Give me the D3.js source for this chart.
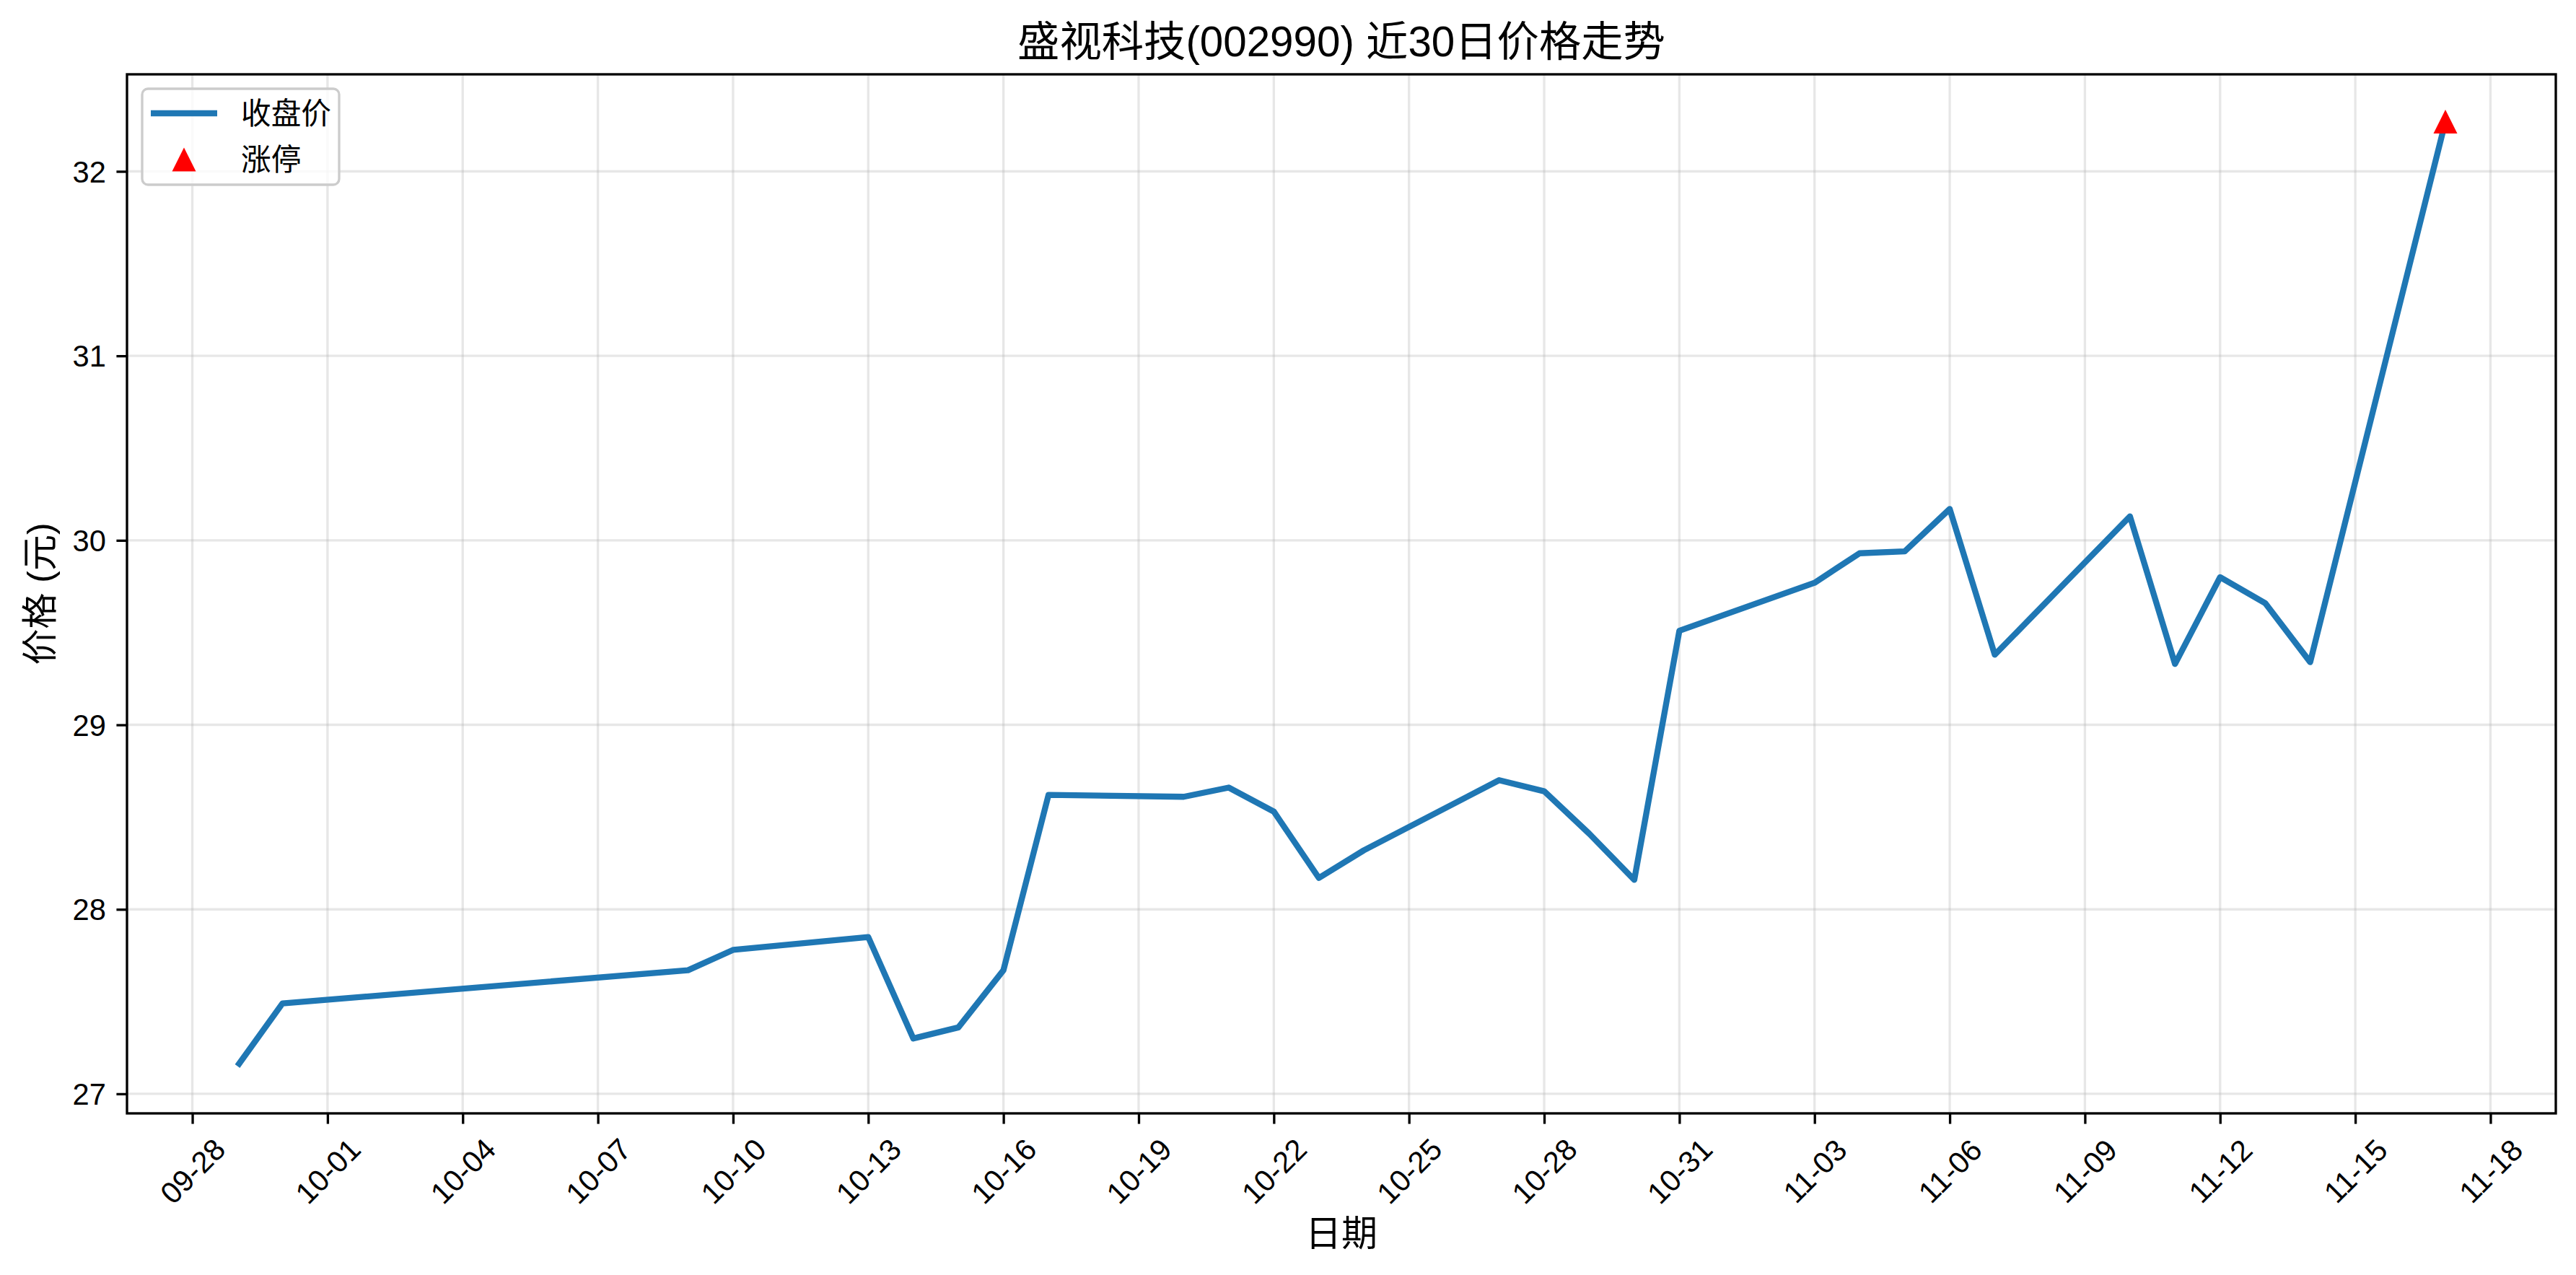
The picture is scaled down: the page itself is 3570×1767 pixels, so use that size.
<!DOCTYPE html>
<html>
<head>
<meta charset="utf-8">
<script src="https://cdn.jsdelivr.net/npm/d3@7"></script>
<style>
  html, body { margin: 0; padding: 0; background: #ffffff; }
  svg { display: block; }
  text { font-family: "Liberation Sans", Arial, "Noto Sans CJK SC", sans-serif; fill: #000; }
</style>
</head>
<body>
<script>
// ---- data ----
const titleText = "盛视科技(002990) 近30日价格走势";
const xLabel = "日期";
const yLabel = "价格 (元)";
const seriesName = "收盘价";
const markerName = "涨停";

const dates = ["2025-09-29","2025-09-30","2025-10-09","2025-10-10","2025-10-13","2025-10-14","2025-10-15","2025-10-16","2025-10-17","2025-10-20","2025-10-21","2025-10-22","2025-10-23","2025-10-24","2025-10-27","2025-10-28","2025-10-29","2025-10-30","2025-10-31","2025-11-03","2025-11-04","2025-11-05","2025-11-06","2025-11-07","2025-11-10","2025-11-11","2025-11-12","2025-11-13","2025-11-14","2025-11-17"];
const closes = [27.15,27.49,27.67,27.78,27.85,27.30,27.36,27.67,28.62,28.61,28.66,28.53,28.17,28.32,28.70,28.64,28.41,28.16,29.51,29.77,29.93,29.94,30.17,29.38,30.13,29.33,29.80,29.66,29.34,32.27];

const limitUpDates = ["2025-11-17"];
const limitUpPrices = [32.27];

const xTickDates = ["2025-09-28","2025-10-01","2025-10-04","2025-10-07","2025-10-10","2025-10-13","2025-10-16","2025-10-19","2025-10-22","2025-10-25","2025-10-28","2025-10-31","2025-11-03","2025-11-06","2025-11-09","2025-11-12","2025-11-15","2025-11-18"];
const yTicks = [27, 28, 29, 30, 31, 32];

// ---- layout ----
const W = 3570, H = 1767;
const plot = { left: 176, right: 3542, top: 103, bottom: 1543 };
const pt = 300 / 72;

const parse = d3.utcParse("%Y-%m-%d");
const fmt = d3.utcFormat("%m-%d");
const data = dates.map((d, i) => ({ date: parse(d), value: closes[i] }));
const limitData = limitUpDates.map((d, i) => ({ date: parse(d), value: limitUpPrices[i] }));

const xExt = d3.extent(data, d => d.date);
const xPad = (xExt[1] - xExt[0]) * 0.05;
const x = d3.scaleUtc()
  .domain([new Date(+xExt[0] - xPad), new Date(+xExt[1] + xPad)])
  .range([plot.left, plot.right]);

const allVals = closes.concat(limitUpPrices);
const yMin = d3.min(allVals), yMax = d3.max(allVals);
const yPad = (yMax - yMin) * 0.05;
const y = d3.scaleLinear()
  .domain([yMin - yPad, yMax + yPad])
  .range([plot.bottom, plot.top]);

const svg = d3.select("body").append("svg")
  .attr("width", W).attr("height", H)
  .attr("viewBox", `0 0 ${W} ${H}`);

svg.append("rect").attr("width", W).attr("height", H).attr("fill", "#fff");

// grid
const gridG = svg.append("g");
gridG.selectAll(".gx").data(xTickDates.map(parse)).enter().append("line")
  .attr("x1", d => x(d)).attr("x2", d => x(d))
  .attr("y1", plot.top).attr("y2", plot.bottom)
  .attr("stroke", "#b0b0b0").attr("stroke-opacity", 0.3).attr("stroke-width", 0.8 * pt);
gridG.selectAll(".gy").data(yTicks).enter().append("line")
  .attr("x1", plot.left).attr("x2", plot.right)
  .attr("y1", d => y(d)).attr("y2", d => y(d))
  .attr("stroke", "#b0b0b0").attr("stroke-opacity", 0.3).attr("stroke-width", 0.8 * pt);

// line
const line = d3.line().x(d => x(d.date)).y(d => y(d.value));
svg.append("path").datum(data)
  .attr("d", line)
  .attr("fill", "none")
  .attr("stroke", "#1f77b4")
  .attr("stroke-width", 2 * pt)
  .attr("stroke-linejoin", "round")
  .attr("stroke-linecap", "butt");

// limit-up markers (matplotlib '^')
const triSize = 16.5;
const triPath = `M0,${-triSize}L${-triSize},${triSize}L${triSize},${triSize}Z`;
svg.selectAll(".lu").data(limitData).enter().append("path")
  .attr("d", triPath)
  .attr("transform", d => `translate(${x(d.date)},${y(d.value)})`)
  .attr("fill", "#ff0000");

// axes
const xAxis = d3.axisBottom(x)
  .tickValues(xTickDates.map(parse))
  .tickFormat(fmt)
  .tickSize(3.5 * pt)
  .tickPadding(3.5 * pt);
const gx = svg.append("g").attr("transform", `translate(0,${plot.bottom})`).call(xAxis);
gx.select(".domain").remove();
gx.selectAll(".tick line").attr("stroke", "#000").attr("stroke-width", 0.8 * pt);
gx.selectAll(".tick text")
  .attr("font-size", 10 * pt)
  .attr("font-family", "Liberation Sans, Arial, sans-serif")
  .attr("text-anchor", "middle")
  .attr("dominant-baseline", "central")
  .attr("dy", null)
  .attr("y", 80)
  .attr("transform", function() { return `rotate(-45,0,80)`; });

const yAxis = d3.axisLeft(y)
  .tickValues(yTicks)
  .tickFormat(d3.format("d"))
  .tickSize(3.5 * pt)
  .tickPadding(3.5 * pt);
const gy = svg.append("g").attr("transform", `translate(${plot.left},0)`).call(yAxis);
gy.select(".domain").remove();
gy.selectAll(".tick line").attr("stroke", "#000").attr("stroke-width", 0.8 * pt);
gy.selectAll(".tick text")
  .attr("font-size", 10 * pt)
  .attr("font-family", "Liberation Sans, Arial, sans-serif")
  .attr("dy", "0.35em");

// frame
svg.append("rect")
  .attr("x", plot.left).attr("y", plot.top)
  .attr("width", plot.right - plot.left).attr("height", plot.bottom - plot.top)
  .attr("fill", "none").attr("stroke", "#000").attr("stroke-width", 0.8 * pt);

// title and labels
svg.append("text")
  .attr("x", (plot.left + plot.right) / 2).attr("y", 57)
  .attr("text-anchor", "middle").attr("dominant-baseline", "central")
  .attr("font-size", 14 * pt)
  .text(titleText);

svg.append("text")
  .attr("x", (plot.left + plot.right) / 2).attr("y", 1710)
  .attr("text-anchor", "middle").attr("dominant-baseline", "central")
  .attr("font-size", 12 * pt)
  .text(xLabel);

svg.append("text")
  .attr("transform", `translate(56,${(plot.top + plot.bottom) / 2}) rotate(-90)`)
  .attr("text-anchor", "middle").attr("dominant-baseline", "central")
  .attr("font-size", 12 * pt)
  .text(yLabel);

// legend
const lg = svg.append("g");
lg.append("rect")
  .attr("x", 197).attr("y", 123).attr("width", 273).attr("height", 133)
  .attr("rx", 8).attr("ry", 8)
  .attr("fill", "#fff").attr("fill-opacity", 0.8)
  .attr("stroke", "#cccccc").attr("stroke-width", 0.8 * pt);
lg.append("line")
  .attr("x1", 209).attr("x2", 301).attr("y1", 157).attr("y2", 157)
  .attr("stroke", "#1f77b4").attr("stroke-width", 2 * pt);
lg.append("text")
  .attr("x", 334).attr("y", 157).attr("dominant-baseline", "central")
  .attr("font-size", 10 * pt).text(seriesName);
lg.append("path")
  .attr("d", triPath)
  .attr("transform", "translate(255,221)")
  .attr("fill", "#ff0000");
lg.append("text")
  .attr("x", 334).attr("y", 221).attr("dominant-baseline", "central")
  .attr("font-size", 10 * pt).text(markerName);
</script>
</body>
</html>
